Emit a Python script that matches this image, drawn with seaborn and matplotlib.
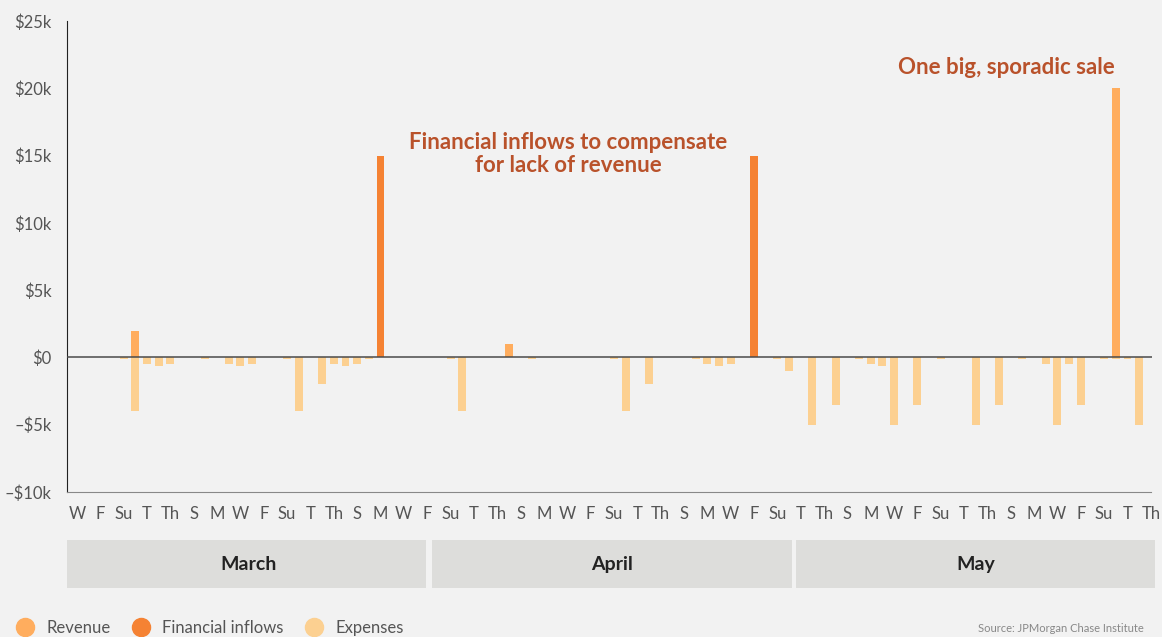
import seaborn as sns
import matplotlib.pyplot as plt
from matplotlib.lines import Line2D
from matplotlib.patches import Rectangle
import pandas as pd

# --- data (day index 0 = Wednesday March 1) ---
n_days = 93
day_names = ["W", "Th", "F", "S", "Su", "M", "T"]

revenue_days = [5, 37, 89]
revenue_vals = [2000, 1000, 20000]

inflow_days = [26, 58]
inflow_vals = [15000, 15000]

expense_days = [4, 5, 6, 7, 8, 11, 13, 14, 15, 18, 19, 21, 22, 23, 24, 25,
                32, 33, 39, 46, 47, 49, 53, 54, 55, 56, 60, 61, 63, 65,
                67, 68, 69, 70, 72, 74, 77, 79, 81, 83, 84, 85, 86, 88, 89, 90, 91]
expense_vals = [-150, -4000, -500, -600, -500, -150, -500, -600, -500, -150, -4000, -2000, -500, -600, -500, -150,
                -150, -4000, -150, -150, -4000, -2000, -150, -500, -600, -500, -150, -1000, -5000, -3500,
                -150, -500, -600, -5000, -3500, -150, -5000, -3500, -150, -500, -5000, -500, -3500, -150, -150, -150, -5000]

months = ["March", "April", "May"]
series = ["Revenue", "Financial inflows", "Expenses"]
colors = {"Revenue": "#FFAD5E", "Financial inflows": "#F58233", "Expenses": "#FCD091"}

rows = []
for d, v in zip(expense_days, expense_vals):
    rows.append({"day": d, "value": v, "kind": "Expenses"})
for d, v in zip(revenue_days, revenue_vals):
    rows.append({"day": d, "value": v, "kind": "Revenue"})
for d, v in zip(inflow_days, inflow_vals):
    rows.append({"day": d, "value": v, "kind": "Financial inflows"})
df = pd.DataFrame(rows)

sns.set_style("white")
plt.rcParams["font.family"] = ["Lato", "DejaVu Sans"]
bg = "#F2F2F2"

fig = plt.figure(figsize=(11.62, 6.37), dpi=100, facecolor=bg)
ax = fig.add_axes([67 / 1162, 1 - 492 / 637, (1152 - 67) / 1162, 471 / 637])
ax.set_facecolor(bg)

sns.barplot(data=df, x="day", y="value", hue="kind", order=list(range(n_days)),
            hue_order=["Expenses", "Revenue", "Financial inflows"], palette=colors,
            dodge=False, width=0.68, saturation=1, errorbar=None, legend=False,
            linewidth=0, ax=ax, zorder=2)

ax.axhline(0, color="#4a4a4a", lw=1.1, zorder=3)
ax.set_xlim(-0.86, 92.1)
ax.set_ylim(-10000, 25000)
yt = list(range(-10000, 25001, 5000))
ax.set_yticks(yt)
ax.set_yticklabels([("\u2013$%dk" % (-v // 1000)) if v < 0 else ("$0" if v == 0 else "$%dk" % (v // 1000)) for v in yt])
ticks = list(range(0, n_days, 2))
ax.set_xticks(ticks)
ax.set_xticklabels([day_names[t % 7] for t in ticks])
ax.set_xlabel("")
ax.set_ylabel("")
ax.tick_params(axis="y", length=5, width=1, color="#333333", labelsize=12, labelcolor="#555555", pad=6)
ax.tick_params(axis="x", length=8, width=1, color="#555555", labelsize=12, labelcolor="#555555", pad=2)
for s in ["top", "right"]:
    ax.spines[s].set_visible(False)
ax.spines["left"].set_color("#222222")
ax.spines["bottom"].set_color("#888888")
ax.spines["bottom"].set_bounds(-0.86, 92)

# month bands
mx = fig.add_axes([67 / 1162, 1 - 588 / 637, (1157 - 67) / 1162, 48 / 637])
mx.set_xlim(0, 3)
mx.set_ylim(0, 1)
mx.axis("off")
gap = 4 / 363
for i, m in enumerate(months):
    mx.add_patch(Rectangle((i + (gap / 2 if i else 0), 0), 1 - gap, 1, color="#DDDDDB", lw=0))
    mx.text(i + 0.5, 0.48, m, ha="center", va="center", fontsize=14, fontweight="bold", color="#222222")

# annotations
acol = "#B9522B"
fig.text(568 / 1162, 1 - 154 / 637, "Financial inflows to compensate\nfor lack of revenue",
         ha="center", va="center", fontsize=16, fontweight="bold", color=acol, linespacing=1.15)
fig.text(1006 / 1162, 1 - 67 / 637, "One big, sporadic sale",
         ha="center", va="center", fontsize=16, fontweight="bold", color=acol)

handles = [Line2D([], [], marker="o", ls="", markersize=13, color=colors[s], label=s) for s in series]
fig.legend(handles=handles, loc="center left", bbox_to_anchor=(8 / 1162, 0.014), ncol=3, frameon=False,
           fontsize=12, labelcolor="#555555", handlelength=1.2, handletextpad=0.7,
           columnspacing=1.2, borderaxespad=0)
fig.text(978 / 1162, 0.004, "Source: JPMorgan Chase Institute", fontsize=8, color="#888888", va="bottom")

fig.savefig("out.png", dpi=100, facecolor=bg)
